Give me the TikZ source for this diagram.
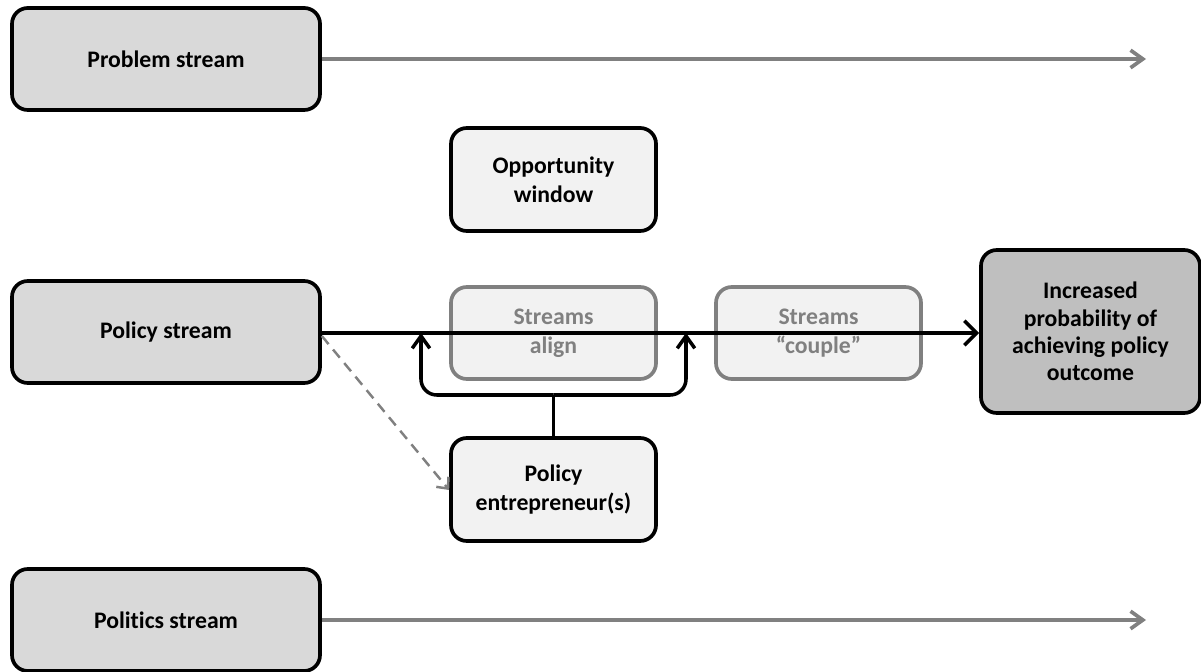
\documentclass[tikz,border=0pt]{standalone}
\usepackage{fontspec}
\setmainfont{Carlito}[Ligatures=NoCommon]
\usetikzlibrary{arrows.meta}
\definecolor{streamfill}{HTML}{D9D9D9}
\definecolor{lightfill}{HTML}{F2F2F2}
\definecolor{outfill}{HTML}{BFBFBF}
\definecolor{midgray}{HTML}{808080}
\begin{document}
\begin{tikzpicture}[x=0.02cm,y=-0.02cm,
  box/.style={draw=black,line width=2.1pt,rounded corners=9pt,align=center,
    font=\fontsize{13.5}{16.5}\selectfont\bfseries,inner sep=0pt},
  streambox/.style={box,fill=streamfill,minimum width=308*0.02cm,minimum height=102*0.02cm},
  midbox/.style={box,fill=lightfill,minimum width=205*0.02cm,minimum height=103*0.02cm},
  fadedbox/.style={midbox,draw=midgray,text=midgray,minimum height=92*0.02cm},
  grayarrow/.style={draw=midgray,line width=2.1pt,-{Straight Barb[length=7pt,width=10pt,line width=2.1pt]}},
  blackarrow/.style={draw=black,line width=2pt,-{Straight Barb[length=7pt,width=14pt,line width=2pt]}},
  uparrow/.style={draw=black,line width=2pt,-{Straight Barb[length=7pt,width=10pt,line width=2pt]}},
  dasharrow/.style={draw=midgray,line width=1.4pt,dash pattern=on 6pt off 4pt,-{Straight Barb[length=5pt,width=9pt,line width=1.4pt]}}
]
\useasboundingbox (0,0) rectangle (1201,672);

% stream boxes on the left
\node[streambox] (problem) at (166,59) {Problem stream};
\node[streambox] (policy) at (166,332) {Policy stream};
\node[streambox] (politics) at (166,620) {Politics stream};

% middle boxes
\node[midbox] (window) at (553.5,179.5) {Opportunity\\window};
\node[fadedbox] (align) at (553.5,333) {Streams\\align};
\node[fadedbox] (couple) at (818.5,333) {Streams\\\char"201C couple\char"201D};
\node[midbox] (entre) at (553.5,489.5) {Policy\\entrepreneur(s)};

% outcome
\node[box,fill=outfill,minimum width=219*0.02cm,minimum height=163*0.02cm,
  font=\fontsize{13.5}{15.5}\selectfont\bfseries] (outcome) at (1090.5,331.5)
  {Increased\\probability of\\achieving policy\\outcome};

% free ends of the grey stream arrows
\coordinate (probEnd) at (1146,59);
\coordinate (polEnd) at (1146,620);

\draw[grayarrow] (problem.east) -- (probEnd);
\draw[grayarrow] (politics.east) -- (polEnd);

% main policy line
\draw[blackarrow] (policy.east |- 0,333) -- (outcome.west |- 0,333);

% entrepreneur bracket pushing the streams together
\coordinate (brL) at (421,333);
\coordinate (brR) at (686,333);
\draw[line width=2pt] (entre.north) -- (553.5,395);
\draw[uparrow,rounded corners=9pt] (553.5,395) -- (421,395) -- (brL);
\draw[uparrow,rounded corners=9pt] (553.5,395) -- (686,395) -- (brR);

% dashed influence of the policy stream on the entrepreneur
\draw[dasharrow] (policy.east |- 0,336) -- (entre.west |- 0,490);
\end{tikzpicture}
\end{document}
